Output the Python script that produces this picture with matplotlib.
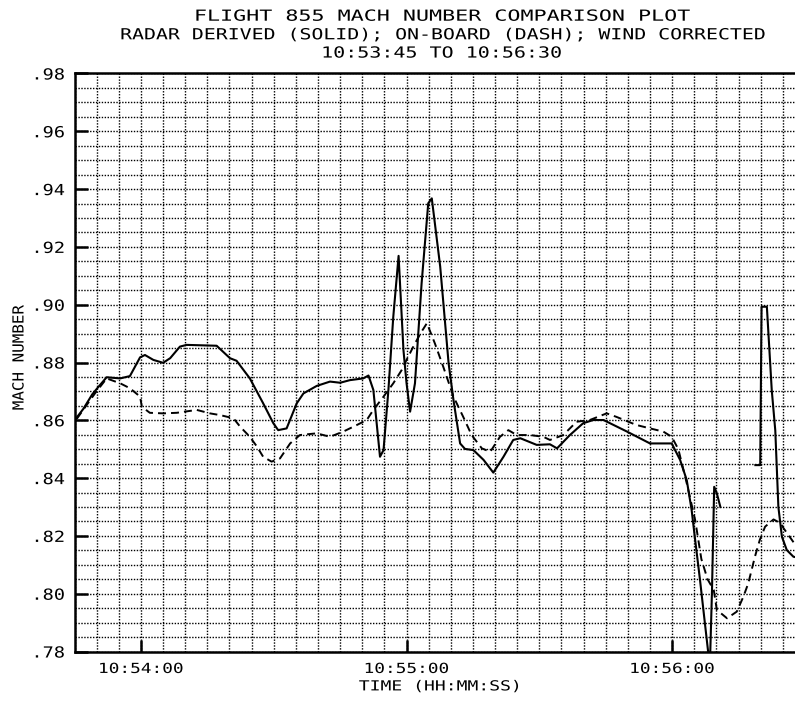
import numpy as np
import matplotlib
matplotlib.use("Agg")
import matplotlib.pyplot as plt
from matplotlib.patheffects import AbstractPathEffect
from matplotlib.transforms import Affine2D
from matplotlib.ticker import MultipleLocator, FixedLocator

# ---------------- data (seconds after 10:53:45, Mach number) ----------------
radar_t = [0.0, 2.0, 4.0, 5.4, 7.25, 10.3, 12.5, 14.8, 15.9, 17.8, 20.0, 21.6, 23.8,
           25.3, 32.1, 35.1, 36.6, 39.6, 42.6, 44.9, 46.0, 47.9, 50.2, 51.7, 54.7,
           57.7, 60.0, 62.2, 65.2, 66.4, 67.5, 69.0, 69.8, 70.9, 72.0, 73.2, 74.3,
           75.0, 75.8, 76.9, 78.4, 79.9, 80.7, 82.6, 84.5, 85.6, 87.1, 88.2, 90.1,
           92.4, 94.6, 96.9, 99.1, 100.7, 104.4, 107.4, 109.0, 111.9, 114.9, 117.2,
           119.5, 124.8, 130.0, 134.9, 136.8, 138.3, 139.4, 140.2, 141.3, 142.4,
           143.2, 143.6, 144.0, 144.5, 145.1, 145.9, np.nan,
           153.8, 154.9, 155.2, 156.4, 157.5, 158.3, 159.0, 159.8, 160.9, 162.4, 165.0]
radar_v = [0.860, 0.864, 0.869, 0.8716, 0.8749, 0.8745, 0.8753, 0.8818, 0.8826, 0.8809,
           0.8799, 0.8815, 0.8855, 0.8861, 0.8858, 0.8815, 0.8806, 0.8745, 0.8659,
           0.8590, 0.8566, 0.8572, 0.8659, 0.8693, 0.8719, 0.8734, 0.8730, 0.8739,
           0.8745, 0.8755, 0.8705, 0.8474, 0.8497, 0.8705, 0.8958, 0.9169, 0.8843,
           0.8728, 0.8630, 0.8728, 0.9074, 0.9351, 0.9368, 0.9132, 0.8797, 0.8670,
           0.8520, 0.8501, 0.8497, 0.8463, 0.8419, 0.8474, 0.8532, 0.8538, 0.8515,
           0.8517, 0.8503, 0.8549, 0.8590, 0.8601, 0.8601, 0.8561, 0.8520, 0.8520,
           0.8463, 0.8393, 0.8290, 0.8186, 0.8047, 0.7898, 0.7790, 0.7790, 0.8010,
           0.8370, 0.8347, 0.8300, np.nan,
           0.8445, 0.8445, 0.8993, 0.8993, 0.8705, 0.8565, 0.8300, 0.8197, 0.8151,
           0.8128, 0.8120]

onboard_t = [0.5, 4.6, 7.25, 10.3, 12.5, 14.8, 15.2, 17.0, 20.0, 23.1, 27.6, 30.6,
             32.9, 35.9, 37.4, 39.6, 41.2, 42.6, 44.5, 46.4, 48.7, 50.9, 54.7, 57.7,
             60.7, 63.8, 66.0, 67.5, 69.8, 72.0, 73.9, 75.0, 76.9, 78.4, 79.6, 81.4,
             83.3, 85.6, 87.8, 89.7, 92.0, 93.9, 96.1, 98.0, 99.9, 102.9, 105.9,
             107.4, 110.4, 113.4, 116.4, 120.2, 122.4, 126.9, 130.0, 133.0, 134.9,
             136.4, 138.3, 140.2, 141.6, 143.0, 144.4, 145.1, 147.4, 149.6, 151.1,
             152.2, 153.7, 154.8, 156.0, 157.9, 159.5, 160.2, 162.8, 165.0]
onboard_v = [0.8605, 0.8693, 0.8745, 0.8728, 0.8711, 0.8682, 0.8647, 0.8626, 0.8624,
             0.8626, 0.8636, 0.8624, 0.8618, 0.8607, 0.8578, 0.8543, 0.8509, 0.8474,
             0.8457, 0.8468, 0.8520, 0.8549, 0.8555, 0.8543, 0.8561, 0.8584, 0.8601,
             0.8636, 0.8682, 0.8728, 0.8774, 0.8809, 0.8866, 0.8907, 0.8936, 0.8866,
             0.8785, 0.8682, 0.8612, 0.8549, 0.8503, 0.8491, 0.8543, 0.8566, 0.8549,
             0.8549, 0.8543, 0.8532, 0.8549, 0.8595, 0.8601, 0.8624, 0.8612, 0.8584,
             0.8572, 0.8561, 0.8543, 0.8500, 0.8382, 0.8255, 0.8120, 0.8050, 0.8013,
             0.7944, 0.7915, 0.7938, 0.7990, 0.8036, 0.8128, 0.8186, 0.8232, 0.8257,
             0.8244, 0.8226, 0.8170, 0.8150]

time_ticks = [15, 75, 135]
time_labels = ["10:54:00", "10:55:00", "10:56:00"]
mach_ticks = [0.78, 0.80, 0.82, 0.84, 0.86, 0.88, 0.90, 0.92, 0.94, 0.96, 0.98]
mach_labels = [".78", ".80", ".82", ".84", ".86", ".88", ".90", ".92", ".94", ".96", ".98"]
title_lines = ["FLIGHT 855 MACH NUMBER COMPARISON PLOT",
               "RADAR DERIVED (SOLID); ON-BOARD (DASH); WIND CORRECTED",
               "10:53:45 TO 10:56:30"]
x_label = "TIME (HH:MM:SS)"
y_label = "MACH NUMBER"


class StretchX(AbstractPathEffect):
    """Widen glyphs horizontally (plotter-style lettering) around line centre."""
    def __init__(self, sx):
        super().__init__()
        self.sx = sx

    def draw_path(self, renderer, gc, tpath, affine, rgbFace=None):
        ext = tpath.get_extents()
        cx = 0.5 * (ext.x0 + ext.x1)
        t = Affine2D().translate(-cx, 0).scale(self.sx, 1.0).translate(cx, 0)
        renderer.draw_path(gc, tpath, t + affine, rgbFace)


plt.rcParams['font.family'] = ['DejaVu Sans Mono', 'DejaVu Sans']
FS = 11
FS_SMALL = 10

fig = plt.figure(figsize=(7.95, 7.02), dpi=100)
ax = fig.add_axes([0.0938, 0.0719, 0.9187, 0.8234])

ax.plot(radar_t, radar_v, color='black', lw=1.5, solid_joinstyle='round')
ln, = ax.plot(onboard_t, onboard_v, color='black', lw=1.4)
ln.set_dashes((4.1, 2.6))

ax.set_xlim(0, 165)
ax.set_ylim(0.78, 0.98)

ax.xaxis.set_major_locator(FixedLocator(time_ticks))
ax.set_xticklabels(time_labels)
ax.xaxis.set_minor_locator(MultipleLocator(5))
ax.yaxis.set_major_locator(FixedLocator(mach_ticks))
ax.set_yticklabels(mach_labels)
ax.yaxis.set_minor_locator(MultipleLocator(0.005))

ax.grid(True, which='both', color='black', lw=1.0, linestyle=(0, (1, 1.1)))
ax.set_axisbelow(True)

ax.tick_params(which='major', direction='in', length=9, width=1.8,
               colors='black')
ax.tick_params(axis='x', which='major', pad=7.5, labelsize=FS_SMALL)
ax.tick_params(axis='y', which='major', pad=9, labelsize=FS)
ax.tick_params(which='minor', length=0)

for s in ['left', 'bottom', 'top']:
    ax.spines[s].set_linewidth(1.8)
ax.spines['right'].set_visible(False)

for lab in ax.get_xticklabels():
    lab.set_path_effects([StretchX(1.28)])
for lab in ax.get_yticklabels():
    lab.set_path_effects([StretchX(1.22)])

cx = 441 / 795
title_y = [0.9705, 0.9440, 0.9180]
title_sx = [1.42, 1.30, 1.31]
for line, yy, sx in zip(title_lines, title_y, title_sx):
    fig.text(cx, yy, line, ha='center', va='baseline', fontsize=FS,
             path_effects=[StretchX(sx)])

fig.text(440 / 795, 0.0165, x_label, ha='center', va='baseline', fontsize=FS_SMALL,
         path_effects=[StretchX(1.30)])
fig.text(19 / 795, 0.49, y_label, ha='center', va='center', rotation=90,
         fontsize=FS, path_effects=[StretchX(1.04)])

fig.savefig('out.png', dpi=100)
